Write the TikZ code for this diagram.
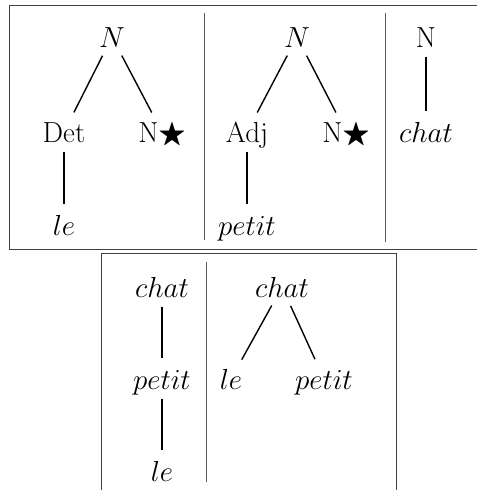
\RequirePackage{fix-cm}
\documentclass[tikz,border=0pt]{standalone}
\usepackage{amssymb}
\begin{document}
\begin{tikzpicture}[x=1pt,y=-1pt,
  lbl/.style={inner sep=0pt, text height=20pt, text depth=0pt, anchor=base,
              font=\fontsize{29}{34}\selectfont},
  edge/.style={line width=1.4pt, shorten <=9.5pt, shorten >=10.5pt},
  frame/.style={line width=0.7pt, black!75},
  sep/.style={line width=0.6pt, black!65}]
\useasboundingbox (0,0) rectangle (477,490);

% frames
\draw[frame] (477,5) -- (9,5) -- (9,249) -- (477,249);
\draw[frame] (101,490) -- (101,253) -- (396,253) -- (396,490);
% column separators
\draw[sep] (204,13) -- (204,240);
\draw[sep] (385,13) -- (385,242);
\draw[sep] (206,262) -- (206,482);

% tree 1
\node[lbl] (n1)   at (112,47)  {$N$};
\node[lbl] (det)  at (64,142)  {Det};
\node[lbl] (ns1)  at (162,142) {N$\bigstar$};
\node[lbl] (le1)  at (64,235)  {$le$};
\draw[edge] (n1) -- (det);
\draw[edge] (n1) -- (ns1);
\draw[edge] (det) -- (le1);

% tree 2
\node[lbl] (n2)     at (297,47)  {$N$};
\node[lbl] (adj)    at (247,142) {Adj};
\node[lbl] (ns2)    at (346,142) {N$\bigstar$};
\node[lbl] (petit1) at (247,235) {$petit$};
\draw[edge] (n2) -- (adj);
\draw[edge] (n2) -- (ns2);
\draw[edge] (adj) -- (petit1);

% tree 3
\node[lbl] (n3)    at (426,47)  {N};
\node[lbl] (chat1) at (426,142) {$chat$};
\draw[edge] (n3) -- (chat1);

% chain
\node[lbl] (chat2)  at (162,297) {$chat$};
\node[lbl] (petit2) at (162,389) {$petit$};
\node[lbl] (le2)    at (162,481) {$le$};
\draw[edge] (chat2) -- (petit2);
\draw[edge] (petit2) -- (le2);

% fork
\node[lbl] (chat3)  at (282,297) {$chat$};
\node[lbl] (le3)    at (231,389) {$le$};
\node[lbl] (petit3) at (324,389) {$petit$};
\draw[edge] (chat3) -- (le3);
\draw[edge] (chat3) -- (petit3);
\end{tikzpicture}
\end{document}
